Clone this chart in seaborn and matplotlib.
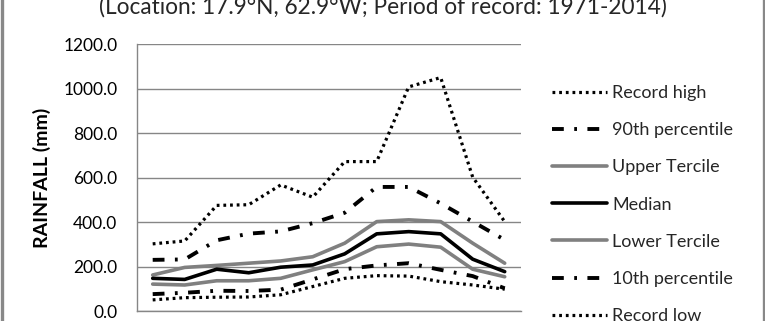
import matplotlib
matplotlib.use("Agg")
import matplotlib.pyplot as plt
import seaborn as sns
import pandas as pd
from matplotlib.patches import Rectangle

months = ["Jan", "Feb", "Mar", "Apr", "May", "Jun", "Jul", "Aug", "Sep", "Oct", "Nov", "Dec"]
record_high = [302, 315, 475, 478, 567, 512, 672, 672, 1008, 1050, 602, 402]
p90 = [230, 232, 318, 348, 358, 395, 442, 558, 558, 484, 402, 320]
upper_tercile = [162, 196, 205, 215, 225, 244, 305, 402, 410, 402, 305, 215]
median = [147, 142, 188, 172, 197, 207, 257, 347, 357, 347, 233, 177]
lower_tercile = [121, 117, 136, 136, 147, 185, 222, 289, 301, 287, 188, 154]
p10 = [76, 82, 91, 90, 96, 142, 188, 205, 215, 185, 157, 102]
record_low = [50, 60, 62, 63, 73, 110, 147, 159, 157, 132, 117, 98]
series_names = ["Record high", "90th percentile", "Upper Tercile", "Median",
                "Lower Tercile", "10th percentile", "Record low"]
title_text = "(Location: 17.9\u00b0N, 62.9\u00b0W; Period of record: 1971-2014)"
y_label = "RAINFALL (mm)"
y_ticks = [0, 200, 400, 600, 800, 1000, 1200]

sns.set_theme(style="white")
plt.rcParams['font.family'] = ['Lato', 'DejaVu Sans']
plt.rcParams['lines.scale_dashes'] = False

fig = plt.figure(figsize=(7.65, 3.21), dpi=100)
W, H = 765, 321
ax_l, ax_r, ax_t, ax_b = 136.7, 520.7, 44.2, 311.0
ax = fig.add_axes([ax_l / W, (H - ax_b) / H, (ax_r - ax_l) / W, (ax_b - ax_t) / H])

values = [record_high, p90, upper_tercile, median, lower_tercile, p10, record_low]
dot = (0, (2.0, 2.8))
dashdot = (0, (8.5, 7.5, 2.0, 7.5))
styles = [
    dict(color="black", lw=2.3, ls=dot),
    dict(color="black", lw=2.8, ls=dashdot),
    dict(color="#808080", lw=2.6, ls="-"),
    dict(color="black", lw=2.6, ls="-"),
    dict(color="#808080", lw=2.6, ls="-"),
    dict(color="black", lw=2.8, ls=dashdot),
    dict(color="black", lw=2.3, ls=dot),
]
for name, vals, st in zip(series_names, values, styles):
    df = pd.DataFrame({"month": months, "value": vals})
    sns.lineplot(data=df, x="month", y="value", ax=ax, color=st["color"],
                 linewidth=st["lw"], linestyle=st["ls"], label=name, sort=False)

ax.set_xlim(-0.5, 11.5)
ax.set_ylim(0, 1200)
ax.set_yticks(y_ticks)
ax.set_yticklabels([f"{v:.1f}" for v in y_ticks])
ax.tick_params(axis="y", length=0, pad=14, labelsize=12.5, colors="black")
ax.tick_params(axis="x", length=0, labelbottom=False)
ax.grid(axis="y", color="#868686", lw=1.0)
ax.grid(axis="x", visible=False)
for s in ["top", "right"]:
    ax.spines[s].set_visible(False)
for s in ["left", "bottom"]:
    ax.spines[s].set_color("#868686")
    ax.spines[s].set_linewidth(1.0)
ax.set_xlabel("")
ax.set_ylabel(y_label, fontsize=14, fontweight="bold", color="black")
ax.yaxis.set_label_coords((51 - ax_l) / (ax_r - ax_l), 0.5)

leg = ax.legend(loc="upper left", bbox_to_anchor=(545 / W, (H - 78) / H),
                bbox_transform=fig.transFigure, frameon=False, fontsize=13,
                handlelength=3.05, handletextpad=0.28, labelspacing=1.17,
                borderaxespad=0)

fig.text(383 / W, 1 - 13.5 / H, title_text, ha="center", va="baseline", fontsize=16.3)

fig.patches.append(Rectangle((1.7 / W, -0.2), (763.8 - 1.7) / W, 1.4,
                             transform=fig.transFigure, fill=False,
                             edgecolor="#888888", lw=2.4, figure=fig))

fig.savefig("out.png", dpi=100)
